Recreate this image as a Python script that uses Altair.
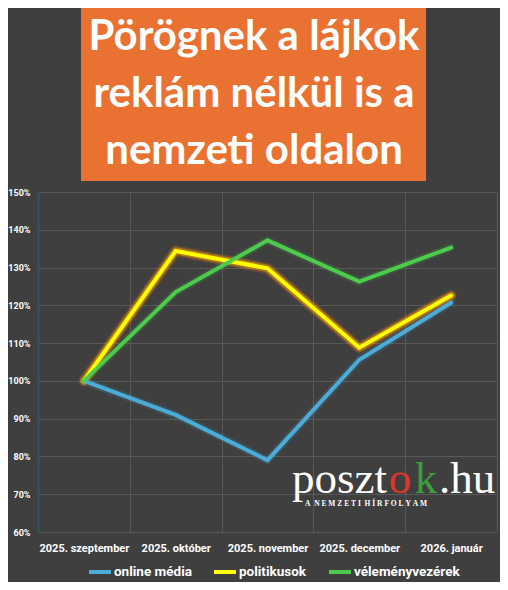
import altair as alt
import pandas as pd

months = ["2025. szeptember", "2025. október", "2025. november", "2025. december", "2026. január"]
series_names = ["online média", "politikusok", "véleményvezérek"]
online_media = [1.00, 0.91, 0.79, 1.056, 1.207]
politikusok = [1.00, 1.344, 1.298, 1.088, 1.226]
velemenyvezerek = [1.00, 1.235, 1.372, 1.263, 1.353]
colors = ["#4BACD8", "#FFFF00", "#4CCB4C"]
title_lines = ["Pörögnek a lájkok", "reklám nélkül is a", "nemzeti oldalon"]

rows = []
for name, vals in zip(series_names, [online_media, politikusok, velemenyvezerek]):
    for i, (m, v) in enumerate(zip(months, vals)):
        rows.append({"honap": m, "idx": i, "ertek": v, "sorozat": name})
df = pd.DataFrame(rows)

W, H = 459, 340

x_enc = alt.X("honap:N", sort=months, title=None,
              scale=alt.Scale(type="band", paddingInner=0, paddingOuter=0),
              axis=alt.Axis(labelAngle=0, tickBand="extent", ticks=False, domain=False,
                            grid=True, gridColor="#585858", gridWidth=1,
                            labelColor="#FFFFFF", labelFont="Roboto", labelFontWeight="bold",
                            labelFontSize=11, labelPadding=10))
y_enc = alt.Y("ertek:Q", title=None,
              scale=alt.Scale(domain=[0.6, 1.5], nice=False, zero=False),
              axis=alt.Axis(format=".0%", values=[0.6, 0.7, 0.8, 0.9, 1.0, 1.1, 1.2, 1.3, 1.4, 1.5],
                            ticks=False, domain=True, domainColor="#2E5566", domainWidth=2,
                            grid=True, gridColor="#585858", gridWidth=1,
                            labelColor="#FFFFFF", labelFont="Roboto", labelFontWeight="bold",
                            labelFontSize=9, labelPadding=8))

color_scale = alt.Scale(domain=series_names, range=colors)
color_enc = alt.Color("sorozat:N", sort=series_names, scale=color_scale,
                      legend=alt.Legend(orient="none", legendX=49, legendY=H + 27,
                                        direction="horizontal", title=None,
                                        symbolType="stroke", symbolStrokeWidth=4, symbolSize=484,
                                        labelColor="#FFFFFF", labelFont="Roboto",
                                        labelFontWeight="bold", labelFontSize=13.5,
                                        labelOffset=1, columnPadding=14))

base = alt.Chart(df).encode(x=x_enc, y=y_enc, order=alt.Order("idx:Q"))


def glow(name, col, width, opac):
    return base.transform_filter(alt.datum.sorozat == name).mark_line(
        color=col, strokeWidth=width, opacity=opac, strokeCap="round", strokeJoin="round")


glows = [
    glow("online média", colors[0], 8, 0.15),
    glow("politikusok", "#FF8C00", 11, 0.2),
    glow("politikusok", "#FFA000", 7.5, 0.5),
    glow("véleményvezérek", colors[2], 8, 0.15),
]

lines = base.mark_line(strokeWidth=4, strokeCap="round").encode(color=color_enc)

title_df = pd.DataFrame({"line": title_lines, "i": [0, 1, 2]})
box = alt.Chart(pd.DataFrame({"a": [0]})).mark_rect(color="#E97132").encode(
    x=alt.value(43), x2=alt.value(388), y=alt.value(-186), y2=alt.value(-11))
title_text = alt.Chart(title_df).transform_calculate(
    ypos="-142 + datum.i * 57"
).mark_text(color="#FFFFFF", font="Lato", fontWeight="bold", fontSize=42,
            align="center", baseline="alphabetic").encode(
    text="line:N", x=alt.value(216), y=alt.Y("ypos:Q", scale=None))

logo_parts = pd.DataFrame({
    "t": ["poszt", "o", "k", ".hu"],
    "px": [349, 362, 388, 401],
    "al": ["right", "center", "center", "left"],
    "c": ["#FFFFFF", "#E0362A", "#3E9E3E", "#FFFFFF"],
})
logo_layers = []
for _, r in logo_parts.iterrows():
    logo_layers.append(
        alt.Chart(pd.DataFrame({"t": [r["t"]]})).mark_text(
            font="Liberation Serif", fontSize=45, color=r["c"], align=r["al"],
            baseline="alphabetic").encode(text="t:N", x=alt.value(int(r["px"])), y=alt.value(301)))
sub_text = "A\u00a0\u00a0N\u00a0E\u00a0M\u00a0Z\u00a0E\u00a0T\u00a0I\u00a0\u00a0H\u00a0Í\u00a0R\u00a0F\u00a0O\u00a0L\u00a0Y\u00a0A\u00a0M"
sub = alt.Chart(pd.DataFrame({"t": [sub_text]})).mark_text(
    font="Liberation Serif", fontWeight="bold", fontSize=7.5, color="#FFFFFF", align="left",
    baseline="alphabetic").encode(text="t:N", x=alt.value(267), y=alt.value(314))

chart = alt.layer(box, title_text, *glows, lines, *logo_layers, sub).properties(
    width=W, height=H,
    autosize=alt.AutoSizeParams(type="none"),
    padding={"left": 30, "top": 184, "right": 3, "bottom": 50},
    background="#3F3F3F",
).configure_view(stroke=None)

chart.save("out.html", embed_options={"renderer": "svg", "actions": False})
